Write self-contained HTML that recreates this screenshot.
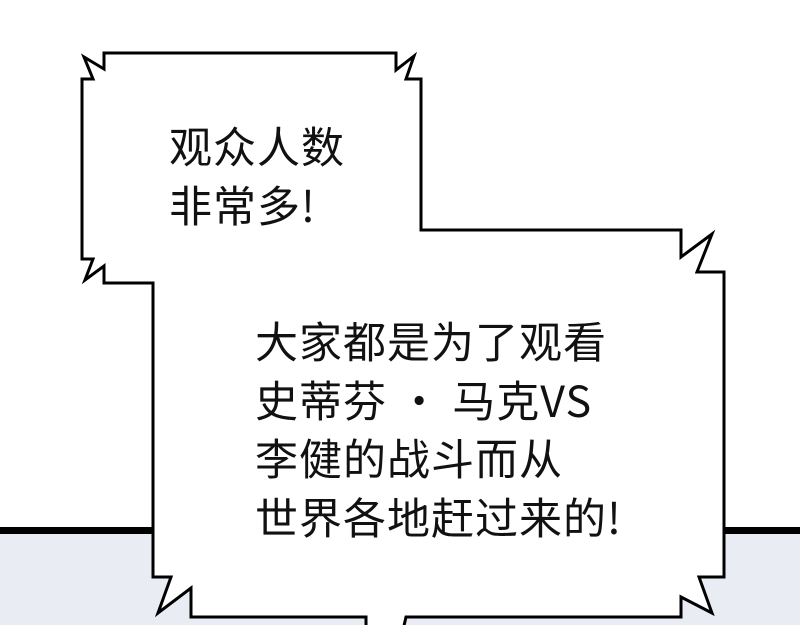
<!DOCTYPE html>
<html><head><meta charset="utf-8"><style>
body{margin:0;width:800px;height:625px;overflow:hidden;background:#fff;position:relative}
.t{position:absolute;font-family:"Noto Sans CJK SC","Liberation Sans",sans-serif;font-size:43px;letter-spacing:1px;color:#111;line-height:58.5px;white-space:nowrap}
</style></head><body>
<svg width="800" height="625" style="position:absolute;left:0;top:0">
<rect x="0" y="530" width="800" height="95" fill="#e9edf3"/>
<rect x="0" y="527" width="800" height="7" fill="#000"/>
<path d="M104,53 L396,53 L396,70 L414,56 L406,79 L421,79 L421,230 L681,230 L681,257 L712,234 L697,272 L724,272 L724,577 L699,577 L712,613 L681,597 L681,617 L406,617 L403,630 L366,630 L366,617 L191,617 L191,588 L158,613 L171,577 L153,577 L153,283 L104,283 L104,266 L85,280 L93,259 L82,259 L82,79 L93,79 L84,57 L104,69 Z" fill="#fff" stroke="#000" stroke-width="3" stroke-linejoin="miter"/>
</svg>
<div class="t" style="left:169px;top:116px">观众人数<br>非常多!</div>
<div class="t" style="left:255px;top:311px">大家都是为了观看<br>史蒂芬 · 马克VS<br>李健的战斗而从<br>世界各地赶过来的!</div>
</body></html>
